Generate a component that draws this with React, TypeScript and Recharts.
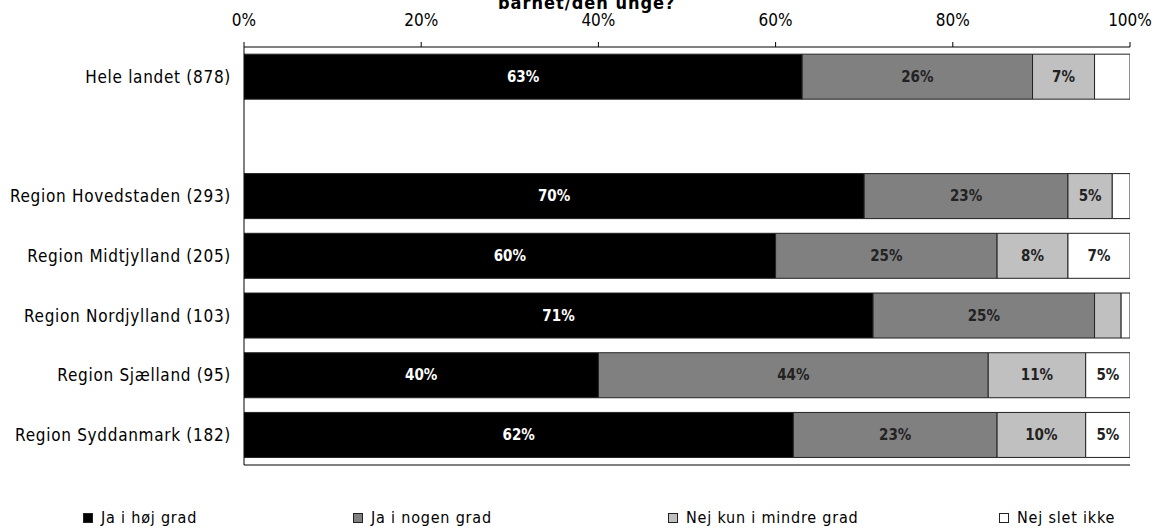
import React from "react";
import { BarChart, Bar, XAxis, YAxis, Legend, LabelList } from "recharts";

const categories = [
  "Hele landet (878)",
  " ",
  "Region Hovedstaden (293)",
  "Region Midtjylland (205)",
  "Region Nordjylland (103)",
  "Region Sjælland (95)",
  "Region Syddanmark (182)",
];
const jaHoej = [63, null, 70, 60, 71, 40, 62];
const jaNogen = [26, null, 23, 25, 25, 44, 23];
const nejMindre = [7, null, 5, 8, 3, 11, 10];
const nejSlet = [4, null, 2, 7, 1, 5, 5];
const xTicks = [0, 20, 40, 60, 80, 100];

const seriesNames = ["Ja i høj grad", "Ja i nogen grad", "Nej kun i mindre grad", "Nej slet ikke"];
const seriesKeys = ["hoej", "nogen", "mindre", "slet"];
const seriesColors = ["#000000", "#808080", "#c0c0c0", "#ffffff"];
const labelColors = ["#ffffff", "#222222", "#222222", "#222222"];
const legendX = [83, 353, 668, 999];

const data = categories.map((name, i) => ({
  name,
  hoej: jaHoej[i],
  nogen: jaNogen[i],
  mindre: nejMindre[i],
  slet: nejSlet[i],
}));

const FONT = "'DejaVu Sans Condensed', 'DejaVu Sans', sans-serif";

const makeLabel = (color: string) => (props: any) => {
  const { x, y, width, height, value } = props;
  if (value == null || value < 5) return null;
  return (
    <text
      x={x + width / 2}
      y={y + height / 2}
      textAnchor="middle"
      dominantBaseline="central"
      fill={color}
      fontFamily={FONT}
      fontWeight={700}
      fontSize={15}
    >
      {value}%
    </text>
  );
};

const LegendContent = () => (
  <div style={{ position: "relative", width: 1157, height: 62, fontFamily: FONT, fontSize: 16, letterSpacing: 0.8 }}>
    {seriesNames.map((n, i) => (
      <div
        key={n}
        style={{
          position: "absolute",
          left: legendX[i],
          top: 42,
          display: "flex",
          alignItems: "center",
          whiteSpace: "nowrap",
          color: "#000",
        }}
      >
        <span
          style={{
            display: "inline-block",
            boxSizing: "border-box",
            width: 10,
            height: 10,
            background: seriesColors[i],
            border: "1.5px solid #222",
            marginRight: 8,
          }}
        />
        {n}
      </div>
    ))}
  </div>
);

export default function App() {
  return (
    <div style={{ position: "absolute", left: 0, top: 0, width: 1157, height: 528, background: "#fff" }}>
      <div
        style={{
          position: "absolute",
          left: 498,
          top: -9,
          fontFamily: FONT,
          fontWeight: 700,
          fontSize: 18,
          lineHeight: "24px",
          letterSpacing: 1,
          whiteSpace: "nowrap",
          zIndex: 2,
        }}
      >
        barnet/den unge?
      </div>
      <BarChart
        width={1157}
        height={528}
        data={data}
        layout="vertical"
        barCategoryGap="12%"
        margin={{ top: 0, right: 27, bottom: 0, left: 0 }}
      >
        <XAxis
          type="number"
          orientation="top"
          domain={[0, 100]}
          ticks={xTicks}
          tickFormatter={(v: number) => `${v}%`}
          height={47}
          tickSize={5}
          tickMargin={16}
          stroke="#000"
          tick={{ fill: "#000", fontSize: 17, fontFamily: FONT }}
          allowDataOverflow
        />
        <XAxis
          xAxisId="bottom"
          type="number"
          orientation="bottom"
          domain={[0, 100]}
          tick={false}
          tickLine={false}
          height={1}
          stroke="#000"
        />
        <YAxis
          type="category"
          dataKey="name"
          width={244}
          tickLine={false}
          tickSize={6}
          tickMargin={7}
          stroke="#000"
          tick={{ fill: "#000", fontSize: 17, fontFamily: FONT, letterSpacing: 0.7 }}
        />
        <YAxis
          yAxisId="right"
          type="category"
          dataKey="name"
          orientation="right"
          width={0}
          tick={false}
          tickLine={false}
          stroke="#000"
        />
        <Legend verticalAlign="bottom" height={62} content={<LegendContent />} />
        {seriesKeys.map((k, i) => (
          <Bar
            key={k}
            dataKey={k}
            name={seriesNames[i]}
            stackId="a"
            fill={seriesColors[i]}
            stroke="#222"
            strokeWidth={1}
            isAnimationActive={false}
          >
            <LabelList dataKey={k} content={makeLabel(labelColors[i])} />
          </Bar>
        ))}
      </BarChart>
    </div>
  );
}
